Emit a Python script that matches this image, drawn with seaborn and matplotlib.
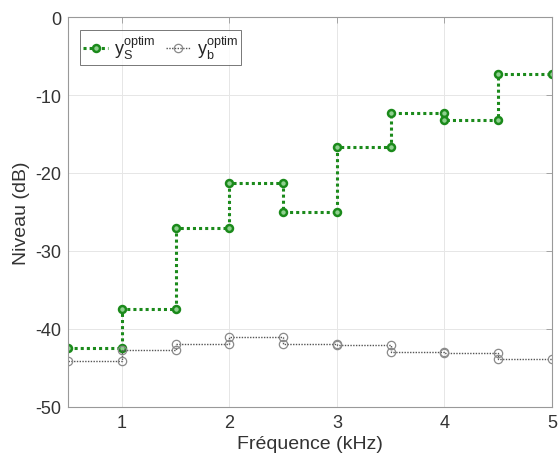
import numpy as np
import pandas as pd
import matplotlib
matplotlib.use("Agg")
import matplotlib.pyplot as plt
import seaborn as sns

# Bandes de fréquence (kHz) et niveaux par bande (dB)
band_edges = [0.5, 1.0, 1.5, 2.0, 2.5, 3.0, 3.5, 4.0, 4.5, 5.0]
ys_levels = [-42.4, -37.4, -27.0, -21.3, -25.0, -16.7, -12.3, -13.2, -7.3]
yb_levels = [-44.1, -42.7, -42.0, -41.1, -42.0, -42.1, -43.0, -43.1, -43.8]


def stair_points(edges, levels):
    # sommets de l'escalier : début et fin de chaque bande
    xs = np.repeat(edges, 2)[1:-1]
    ys = np.repeat(levels, 2)
    return xs, ys


xs, ys_s = stair_points(band_edges, ys_levels)
_, ys_b = stair_points(band_edges, yb_levels)
df_s = pd.DataFrame({"f": xs, "niveau": ys_s})
df_b = pd.DataFrame({"f": xs, "niveau": ys_b})

sns.set_theme(style="whitegrid")
plt.rcParams['font.family'] = ['Liberation Sans', 'DejaVu Sans']
plt.rcParams['mathtext.default'] = 'regular'
plt.rcParams['axes.unicode_minus'] = False

fig = plt.figure(figsize=(5.58, 4.64), dpi=100)
ax = fig.add_axes([0.122, 0.121, 0.867, 0.840])

green = "#1b8a1b"
sns.lineplot(data=df_s, x="f", y="niveau", ax=ax, sort=False, estimator=None,
             color=green, linestyle=(0, (1, 1)), linewidth=2.2, marker="o",
             markersize=5, markerfacecolor="#8fd08f", markeredgecolor=green,
             markeredgewidth=1.8, label=r"$y_S^{optim}$")
sns.lineplot(data=df_b, x="f", y="niveau", ax=ax, sort=False, estimator=None,
             color="#555555", linestyle=(0, (1, 1)), linewidth=1.0, marker="o",
             markersize=6, markerfacecolor="none", markeredgecolor="#8a8a8a",
             markeredgewidth=0.9, label=r"$y_b^{optim}$")

ax.set_xlim(0.5, 5)
ax.set_ylim(-50, 0)
ax.set_xticks([1, 2, 3, 4, 5])
ax.set_yticks([0, -10, -20, -30, -40, -50])
ax.set_xlabel("Fréquence (kHz)", fontsize=14, color="#333333", labelpad=3)
ax.set_ylabel("Niveau (dB)", fontsize=14, color="#333333", labelpad=4)
ax.tick_params(axis="both", labelsize=13, labelcolor="#333333", direction="in",
               length=4, width=0.6, top=True, right=True, color="#999999", pad=5)
ax.grid(True, color="#e6e6e6", linewidth=0.7)
for sp in ax.spines.values():
    sp.set_color("#999999")
    sp.set_linewidth(0.8)

leg = ax.legend(loc="upper left", ncol=2, fontsize=13, frameon=True,
                fancybox=False, handlelength=1.4, columnspacing=0.6,
                handletextpad=0.3, borderpad=0.2, bbox_to_anchor=(0.005, 0.99))
leg.get_frame().set_edgecolor("#555555")
leg.get_frame().set_linewidth(0.7)

fig.savefig("out.png", dpi=100)
